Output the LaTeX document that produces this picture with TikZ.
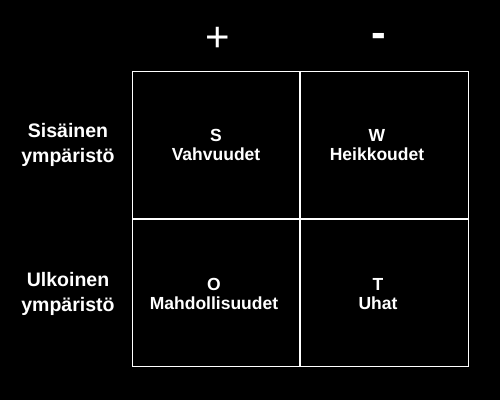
\documentclass[tikz,border=0pt]{standalone}
\usepackage{fontspec}
\setmainfont{Liberation Sans}
\begin{document}
\begin{tikzpicture}[x=1pt,y=-1pt,
  grid/.style={draw=white,line width=1.5pt},
  celltxt/.style={text=white,font=\bfseries\fontsize{17.5}{19}\selectfont,align=center,inner sep=0pt},
  sidetxt/.style={text=white,font=\bfseries\fontsize{19.5}{25}\selectfont,align=center,inner sep=0pt},
  signtxt/.style={text=white,font=\fontsize{42}{44}\selectfont,inner sep=0pt},
  minustxt/.style={text=white,font=\bfseries\fontsize{44}{46}\selectfont,inner sep=0pt}]
\fill[black] (0,0) rectangle (500,400);
\useasboundingbox (0,0) rectangle (500,400);
\coordinate (tl) at (132.5,71.5);
\coordinate (br) at (468.5,366.5);
\coordinate (mt) at (300,71.5);
\coordinate (mb) at (300,366.5);
\coordinate (ml) at (132.5,219);
\coordinate (mr) at (468.5,219);
\draw[grid] (tl) rectangle (br);
\draw[grid] (mt) -- (mb);
\draw[grid] (ml) -- (mr);
\node[signtxt] (plus) at (218,39) {+};
\node[minustxt] (minus) at (378.5,40) {-};
\node[sidetxt] (sis) at (68,145) {Sisäinen\\ympäristö};
\node[sidetxt] (ulk) at (68,294) {Ulkoinen\\ympäristö};
\node[celltxt] (s) at (216,145) {S\\Vahvuudet};
\node[celltxt] (w) at (377,145) {W\\Heikkoudet};
\node[celltxt] (o) at (214,294) {O\\Mahdollisuudet};
\node[celltxt] (t) at (378,294) {T\\Uhat};
\end{tikzpicture}
\end{document}
